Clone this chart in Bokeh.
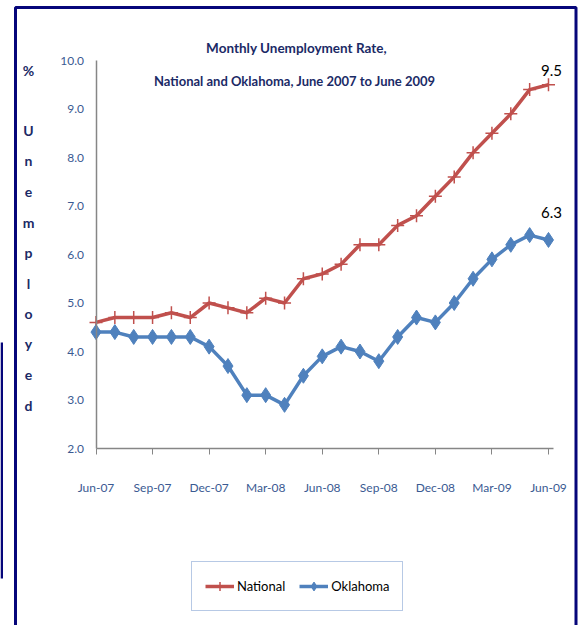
from bokeh.plotting import figure
from bokeh.models import (Range1d, FixedTicker, Label, Legend, LegendItem,
                          BoxAnnotation, PrintfTickFormatter)
from bokeh.embed import file_html
from bokeh.resources import INLINE

# ---------------- data ----------------
months = ["Jun-07", "Jul-07", "Aug-07", "Sep-07", "Oct-07", "Nov-07", "Dec-07",
          "Jan-08", "Feb-08", "Mar-08", "Apr-08", "May-08", "Jun-08", "Jul-08",
          "Aug-08", "Sep-08", "Oct-08", "Nov-08", "Dec-08", "Jan-09", "Feb-09",
          "Mar-09", "Apr-09", "May-09", "Jun-09"]
national = [4.6, 4.7, 4.7, 4.7, 4.8, 4.7, 5.0, 4.9, 4.8, 5.1, 5.0, 5.5, 5.6,
            5.8, 6.2, 6.2, 6.6, 6.8, 7.2, 7.6, 8.1, 8.5, 8.9, 9.4, 9.5]
oklahoma = [4.4, 4.4, 4.3, 4.3, 4.3, 4.3, 4.1, 3.7, 3.1, 3.1, 2.9, 3.5, 3.9,
            4.1, 4.0, 3.8, 4.3, 4.7, 4.6, 5.0, 5.5, 5.9, 6.2, 6.4, 6.3]
x_tick_labels = ["Jun-07", "Sep-07", "Dec-07", "Mar-08", "Jun-08", "Sep-08",
                 "Dec-08", "Mar-09", "Jun-09"]
y_ticks = [2, 3, 4, 5, 6, 7, 8, 9, 10]
title_lines = ["Monthly Unemployment Rate,",
               "National and Oklahoma,  June 2007 to June 2009"]
ylabel_chars = ["%", "U", "n", "e", "m", "p", "l", "o", "y", "e", "d"]
series_names = ["National", "Oklahoma"]

# ---------------- style / layout ----------------
FONT = "Lato"
RED = "#C0504D"
BLUE = "#4F81BD"
NAVY = "#1B2A66"
TICKC = "#3A5A92"
AXISC = "#868686"
FRAMEC = "#06067A"

W, H = 579, 625
X0_PX, PX_PER_MONTH = 95.5, 18.854   # index 0 position, spacing
Y2_PX, PX_PER_UNIT = 448, 48.5       # y=2 position (from top), spacing

xs = list(range(len(months)))
x_tick_pos = [months.index(m) for m in x_tick_labels]

x_start = -X0_PX / PX_PER_MONTH
x_end = (W - X0_PX) / PX_PER_MONTH
y_top = y_ticks[0] + Y2_PX / PX_PER_UNIT
y_bottom = y_ticks[0] - (H - Y2_PX) / PX_PER_UNIT

p = figure(width=W, height=H, output_backend="svg", toolbar_location=None,
           x_range=Range1d(x_start, x_end), y_range=Range1d(y_bottom, y_top),
           min_border_left=0, min_border_right=0, min_border_top=0,
           min_border_bottom=0)
p.outline_line_color = None
p.grid.visible = False
p.background_fill_color = "white"
p.border_fill_color = "white"

# axes (drawn at fixed positions inside the full-canvas frame)
p.xaxis.fixed_location = y_ticks[0]
p.xaxis.bounds = (0, (553 - X0_PX) / PX_PER_MONTH)
p.xaxis.ticker = FixedTicker(ticks=x_tick_pos)
p.xaxis.major_label_overrides = {t: l for t, l in zip(x_tick_pos, x_tick_labels)}
p.xaxis.major_tick_in = 0
p.xaxis.major_tick_out = 6
p.xaxis.minor_tick_line_color = None
p.xaxis.major_tick_line_color = AXISC
p.xaxis.axis_line_color = AXISC
p.xaxis.axis_line_width = 1.5
p.xaxis.major_label_standoff = 25
p.xaxis.major_label_text_font = FONT
p.xaxis.major_label_text_font_size = "12px"
p.xaxis.major_label_text_color = TICKC

p.yaxis.fixed_location = 0
p.yaxis.bounds = (y_ticks[0], y_ticks[-1])
p.yaxis.ticker = FixedTicker(ticks=y_ticks)
p.yaxis.formatter = PrintfTickFormatter(format="%.1f")
p.yaxis.major_tick_in = 0
p.yaxis.major_tick_out = 0
p.yaxis.minor_tick_line_color = None
p.yaxis.axis_line_color = AXISC
p.yaxis.axis_line_width = 1.5
p.yaxis.major_label_standoff = 12
p.yaxis.major_label_text_font = FONT
p.yaxis.major_label_text_font_size = "12px"
p.yaxis.major_label_text_color = TICKC

# series
l1 = p.line(xs, national, line_color=RED, line_width=3.5)
s1 = p.scatter(xs, national, marker="cross", size=13, line_color=RED, line_width=1.5)
l2 = p.line(xs, oklahoma, line_color=BLUE, line_width=3.5)
s2 = p.scatter(xs, oklahoma, marker="diamond", size=15, fill_color=BLUE, line_color=BLUE)

# helpers: reference-picture pixel -> frame screen units (origin bottom-left)
def fx(x):
    return x
def fy(y):
    return H - y

# title
for txt, cy, fs in zip(title_lines, [47, 80], ["13.5px", "13px"]):
    p.add_layout(Label(x=fx(296), y=fy(cy), x_units="screen", y_units="screen",
                       text=txt, text_align="center", text_baseline="middle",
                       text_font=FONT, text_font_style="bold",
                       text_font_size=fs, text_color=NAVY))

# vertical y label
for ch, cy in zip(ylabel_chars, [70, 130, 160, 191, 222, 252, 283, 313, 343, 374, 405]):
    p.add_layout(Label(x=fx(28), y=fy(cy), x_units="screen", y_units="screen",
                       text=ch, text_align="center", text_baseline="middle",
                       text_font=FONT, text_font_style="bold",
                       text_font_size="14px", text_color=NAVY))

# end-point data labels
p.add_layout(Label(x=xs[-1], y=national[-1], text=f"{national[-1]:.1f}",
                   x_offset=3, y_offset=9, text_align="center", text_baseline="bottom",
                   text_font=FONT, text_font_size="15px", text_color="black"))
p.add_layout(Label(x=xs[-1], y=oklahoma[-1], text=f"{oklahoma[-1]:.1f}",
                   x_offset=3, y_offset=22, text_align="center", text_baseline="bottom",
                   text_font=FONT, text_font_size="15px", text_color="black"))

# legend
legend = Legend(items=[LegendItem(label=series_names[0], renderers=[l1, s1]),
                       LegendItem(label=series_names[1], renderers=[l2, s2])],
                orientation="horizontal", location=(fx(191), fy(611)),
                border_line_color="#6F93CC", border_line_width=1.5,
                label_text_font=FONT, label_text_font_size="13px",
                label_text_color="black",
                glyph_width=29, glyph_height=22, padding=13, spacing=14,
                label_standoff=3, margin=0, background_fill_color="white")
p.add_layout(legend, "center")

# outer navy frame
p.add_layout(BoxAnnotation(left=fx(15), right=fx(575.5), top=fy(7), bottom=-30,
                           left_units="screen", right_units="screen",
                           top_units="screen", bottom_units="screen",
                           fill_alpha=0, line_color=FRAMEC, line_alpha=1,
                           line_width=3))
# narrow navy bar at the far left edge
p.add_layout(BoxAnnotation(left=fx(0), right=fx(2.5), top=fy(342), bottom=fy(578),
                           left_units="screen", right_units="screen",
                           top_units="screen", bottom_units="screen",
                           fill_color=FRAMEC, fill_alpha=1, line_alpha=0))

open("out.html", "w").write(file_html(p, INLINE))
